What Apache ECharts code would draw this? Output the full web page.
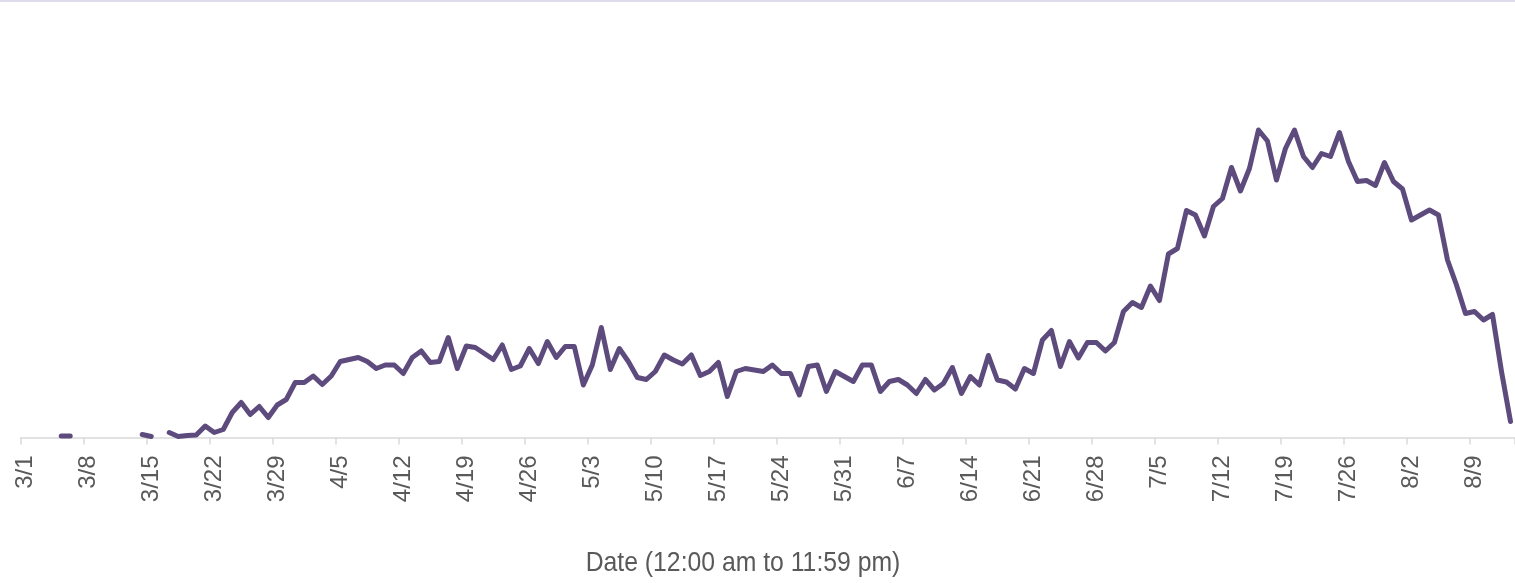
<!DOCTYPE html>
<html>
<head>
<meta charset="utf-8">
<script src="https://cdn.jsdelivr.net/npm/echarts@6/dist/echarts.min.js"></script>
<style>
html,body{margin:0;padding:0;background:#fff;}
#chart{width:1515px;height:583px;}
</style>
</head>
<body>
<div id="chart"></div>
<script>
// Category labels: daily dates from 3/1 to 8/13
const months = [3, 4, 5, 6, 7, 8];
const monthDays = [31, 30, 31, 30, 31, 13];
const dates = [];
months.forEach((m, k) => { for (let d = 1; d <= monthDays[k]; d++) dates.push(m + '/' + d); });

// Daily values (null = no data)
const values = [
  null, null, null, null, 1.5, 1.5, null, null, null, null,
  null, null, null, 3, 1, null, 5, 1, 2, 2.5,
  11.5, 5, 8, 25, 35, 23, 31, 20, 32.5, 38,
  55, 55, 61.5, 53, 61.5, 76, 78, 80, 76, 69,
  72.5, 72.5, 64, 80, 86.5, 75, 76, 100, 69, 91.5,
  90, 84, 78, 92.5, 68, 71.5, 89, 74, 96, 80,
  91, 91, 52.5, 72.5, 110, 68, 89, 76, 60, 58,
  66, 82.5, 77.5, 73.5, 82.5, 62, 66, 75, 41, 66,
  69, 67.5, 66, 72.5, 64, 64, 42.5, 71, 72.5, 46,
  66, 61, 56, 72.5, 72.5, 46, 56, 58, 52.5, 44,
  58, 47.5, 54, 70, 44, 61, 52.5, 82, 57.5, 55.5,
  48.5, 69, 64, 97.5, 107, 71, 96, 79.5, 95, 95,
  86.5, 95, 126, 135, 130, 151.5, 137, 183.5, 189, 227,
  222.5, 201.5, 231, 239, 270, 246.5, 269, 307.5, 296.5, 257.5,
  289, 307.5, 281, 270, 284, 281, 305, 276, 256, 257,
  252, 275, 256, 248.5, 217.5, 222.5, 227.5, 222.5, 177.5, 152.5,
  124, 126, 117.5, 123, 66, 16
];

const axisTitle = 'Date (12:00 am to 11:59 pm)';

const chart = echarts.init(document.getElementById('chart'), null, {renderer: 'canvas', devicePixelRatio: 1});
chart.setOption({
  animation: false,
  backgroundColor: '#ffffff',
  grid: {left: 20.7, width: 1495.7, top: 87.5, bottom: 145.5, containLabel: false},
  xAxis: {
    type: 'category',
    data: dates,
    boundaryGap: true,
    axisLine: {show: true, lineStyle: {color: '#d9d9d9', width: 1.5}},
    axisTick: {show: true, interval: 6, length: 7, lineStyle: {color: '#d9d9d9', width: 1.5}},
    axisLabel: {
      interval: 6, rotate: 90, margin: 18,
      color: '#595959', fontSize: 24,
      fontFamily: 'Liberation Sans'
    },
    splitLine: {show: false}
  },
  yAxis: {
    type: 'value', min: 0, max: 350,
    show: false,
    splitLine: {show: false}
  },
  series: [{
    type: 'line',
    data: values,
    showSymbol: false,
    symbol: 'none',
    connectNulls: false,
    lineStyle: {color: '#5e4b7e', width: 5, cap: 'round', join: 'round'},
    itemStyle: {color: '#5e4b7e'}
  }],
  graphic: [
    {type: 'rect', shape: {x: 0, y: 0, width: 1515, height: 2}, style: {fill: '#dedced'}},
    {type: 'text', x: 743, y: 563, scaleX: 0.9, style: {
      text: axisTitle, fill: '#595959', fontSize: 27.5,
      fontFamily: 'Liberation Sans',
      align: 'center', verticalAlign: 'middle'
    }}
  ]
});
</script>
</body>
</html>
